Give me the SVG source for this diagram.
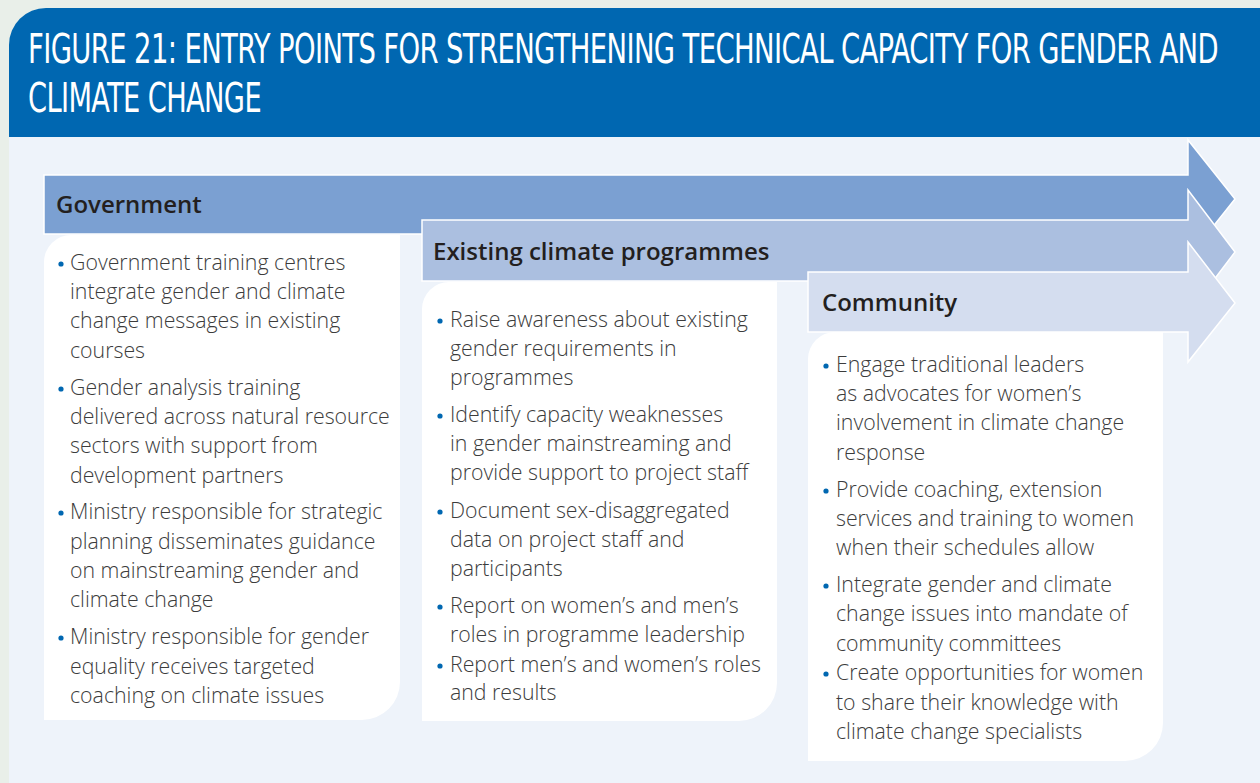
<svg xmlns="http://www.w3.org/2000/svg" width="1260" height="783" viewBox="0 0 1260 783">
<defs>
<style>
.title{font-family:"DejaVu Sans Condensed","DejaVu Sans",sans-serif;font-size:40px;letter-spacing:-0.8px;fill:#ffffff;}
.head{font-family:"Open Sans","Noto Sans",sans-serif;font-weight:600;font-size:24px;fill:#231f20;}
.body{font-family:"Open Sans","Noto Sans",sans-serif;font-weight:300;font-size:21.3px;fill:#3c3c3c;}
.card{fill:#ffffff;}
.arrow{stroke:#ffffff;stroke-width:1.5;}
.dot{fill:#0067b1;}
</style>
</defs>
<rect x="0" y="0" width="1260" height="783" fill="#e9efe9"/>
<rect x="9" y="120" width="1251" height="663" fill="#eef3fa"/>
<g id="header">
<path d="M9,45 A37,37 0 0 1 46,8 H1260 V137 H9 Z" fill="#0067b1"/>
<text class="title" x="28" y="63" textLength="1190" lengthAdjust="spacingAndGlyphs">FIGURE 21: ENTRY POINTS FOR STRENGTHENING TECHNICAL CAPACITY FOR GENDER AND</text>
<text class="title" x="28" y="112" textLength="233" lengthAdjust="spacingAndGlyphs">CLIMATE CHANGE</text>
</g>
<g id="government">
<path class="arrow" d="M44,175 H1188 V140 L1235,199 L1188,258 V234 H44 Z" fill="#7ba0d2"/>
<text class="head" x="56" y="213">Government</text>
<path class="card" d="M44,262 A27,27 0 0 1 71,235 H400 V682 A38,38 0 0 1 362,720 H44 Z"/>
<g class="body">
<circle class="dot" cx="61" cy="264" r="2.6"/>
<text x="70" y="270">Government training centres</text>
<text x="70" y="299">integrate gender and climate</text>
<text x="70" y="328">change messages in existing</text>
<text x="70" y="358">courses</text>
<circle class="dot" cx="61" cy="389" r="2.6"/>
<text x="70" y="395">Gender analysis training</text>
<text x="70" y="424">delivered across natural resource</text>
<text x="70" y="453">sectors with support from</text>
<text x="70" y="483">development partners</text>
<circle class="dot" cx="61" cy="513" r="2.6"/>
<text x="70" y="519">Ministry responsible for strategic</text>
<text x="70" y="549">planning disseminates guidance</text>
<text x="70" y="578">on mainstreaming gender and</text>
<text x="70" y="607">climate change</text>
<circle class="dot" cx="61" cy="638" r="2.6"/>
<text x="70" y="644">Ministry responsible for gender</text>
<text x="70" y="674">equality receives targeted</text>
<text x="70" y="703">coaching on climate issues</text>
</g>
</g>
<g id="existing">
<path class="arrow" d="M422,220 H1188 V190 L1235,252 L1188,314 V281 H422 Z" fill="#abbfe0"/>
<text class="head" x="433" y="260">Existing climate programmes</text>
<path class="card" d="M422,309 A27,27 0 0 1 449,282 H777 V683 A38,38 0 0 1 739,721 H422 Z"/>
<g class="body">
<circle class="dot" cx="440" cy="321" r="2.6"/>
<text x="450" y="327">Raise awareness about existing</text>
<text x="450" y="356">gender requirements in</text>
<text x="450" y="385">programmes</text>
<circle class="dot" cx="440" cy="416" r="2.6"/>
<text x="450" y="422">Identify capacity weaknesses</text>
<text x="450" y="451">in gender mainstreaming and</text>
<text x="450" y="480">provide support to project staff</text>
<circle class="dot" cx="440" cy="512" r="2.6"/>
<text x="450" y="518">Document sex-disaggregated</text>
<text x="450" y="547">data on project staff and</text>
<text x="450" y="576">participants</text>
<circle class="dot" cx="440" cy="607" r="2.6"/>
<text x="450" y="613">Report on women’s and men’s</text>
<text x="450" y="642">roles in programme leadership</text>
<circle class="dot" cx="440" cy="666" r="2.6"/>
<text x="450" y="672">Report men’s and women’s roles</text>
<text x="450" y="700">and results</text>
</g>
</g>
<g id="community">
<path class="arrow" d="M808,272 H1188 V242 L1235,303 L1188,362 V332 H808 Z" fill="#d4ddef"/>
<text class="head" x="822" y="311">Community</text>
<path class="card" d="M808,359 A27,27 0 0 1 835,332 H1163 V723 A38,38 0 0 1 1125,761 H808 Z"/>
<g class="body">
<circle class="dot" cx="826" cy="366" r="2.6"/>
<text x="836" y="372">Engage traditional leaders</text>
<text x="836" y="401">as advocates for women’s</text>
<text x="836" y="430">involvement in climate change</text>
<text x="836" y="460">response</text>
<circle class="dot" cx="826" cy="491" r="2.6"/>
<text x="836" y="497">Provide coaching, extension</text>
<text x="836" y="526">services and training to women</text>
<text x="836" y="555">when their schedules allow</text>
<circle class="dot" cx="826" cy="586" r="2.6"/>
<text x="836" y="592">Integrate gender and climate</text>
<text x="836" y="621">change issues into mandate of</text>
<text x="836" y="651">community committees</text>
<circle class="dot" cx="826" cy="674" r="2.6"/>
<text x="836" y="680">Create opportunities for women</text>
<text x="836" y="710">to share their knowledge with</text>
<text x="836" y="739">climate change specialists</text>
</g>
</g>
</svg>
